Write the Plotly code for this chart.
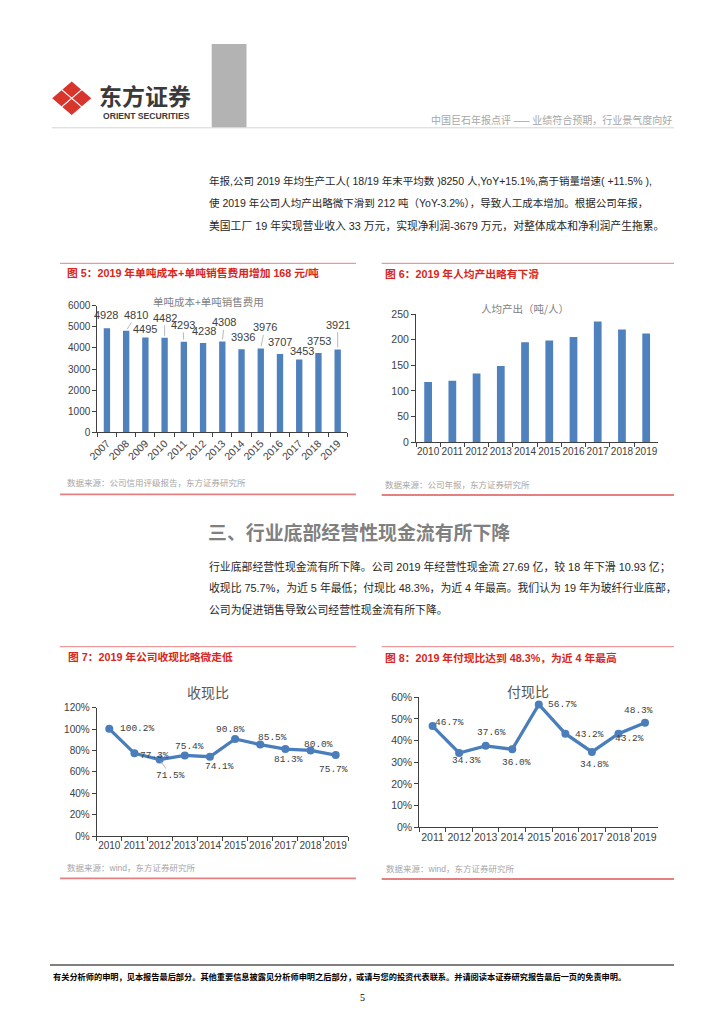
import plotly.graph_objects as go

# The page body has an 8px margin, so the figure is sized/offset to compensate.
OFF = 8
W, H = 724 - OFF, 1024 - OFF


def X(p):
    return (p - OFF) / W


def Y(p):
    return 1 - (p - OFF) / H


# ---------------- data ----------------
cost_years = ["2007", "2008", "2009", "2010", "2011", "2012", "2013",
              "2014", "2015", "2016", "2017", "2018", "2019"]
cost_values = [4928, 4810, 4495, 4482, 4293, 4238, 4308, 3936, 3976, 3707, 3453, 3753, 3921]

output_years = ["2010", "2011", "2012", "2013", "2014", "2015", "2016", "2017", "2018", "2019"]
output_values = [117.5, 120, 134, 148.5, 195, 198.5, 205, 235.5, 220, 212]

recv_years = ["2010", "2011", "2012", "2013", "2014", "2015", "2016", "2017", "2018", "2019"]
recv_values = [100.2, 77.3, 71.5, 75.4, 74.1, 90.8, 85.5, 81.3, 80.0, 75.7]

pay_years = ["2011", "2012", "2013", "2014", "2015", "2016", "2017", "2018", "2019"]
pay_values = [46.7, 34.3, 37.6, 36.0, 56.7, 43.2, 34.8, 43.2, 48.3]

# label offsets (style): (dx, dy screen px, leader line)
cost_lbl = [(-1, -13, 0), (10, -16, 1), (0, -8, 0), (0, -20, 1), (-1, -17, 1), (1, -12, 0),
            (2, -19, 1), (1, -12, 0), (4, -21, 1), (0, -12, 0), (3, -8, 0), (1, -12, 0), (0, -25, 1)]
recv_lbl = [(28, 0, 0), (20, 2, 0), (11, 16, 1), (5, -9, 0), (10, 10, 0), (-5, -9, 0),
            (12, -7, 0), (3, 10, 0), (8, -6, 0), (-2, 14, 0)]
pay_lbl = [(17, -4, 0), (7, 8, 0), (6, -13, 0), (4, 13, 0), (24, 0, 0), (24, 1, 0),
           (3, 13, 0), (11, 5, 0), (-7, -12, 0)]

FONT = "Liberation Sans, Noto Sans CJK SC, sans-serif"
CJK = "Noto Sans CJK SC, Liberation Sans, sans-serif"
MONO = "Liberation Mono, DejaVu Sans Mono, monospace"
RED = "#d9261c"
LINE_RED = "#e58080"
BLUE = "#4f81bd"
LBLUE = "#4a7ebb"
AX = "#404040"
TXT = "#404040"

fig = go.Figure()

fig.add_trace(go.Bar(x=cost_years, y=cost_values, xaxis="x", yaxis="y",
                     marker=dict(color=BLUE, line=dict(width=0)), width=0.33))
fig.add_trace(go.Bar(x=output_years, y=output_values, xaxis="x2", yaxis="y2",
                     marker=dict(color=BLUE, line=dict(width=0)), width=0.32))
fig.add_trace(go.Scatter(x=recv_years, y=recv_values, xaxis="x3", yaxis="y3",
                         mode="lines+markers", line=dict(color=LBLUE, width=3.3),
                         marker=dict(size=8, color=LBLUE)))
fig.add_trace(go.Scatter(x=pay_years, y=pay_values, xaxis="x4", yaxis="y4",
                         mode="lines+markers", line=dict(color=LBLUE, width=3.3),
                         marker=dict(size=8, color=LBLUE)))


def xax(d, n, size=10, angle=0):
    return dict(domain=d, type="category", range=[-0.5, n - 0.5], showline=True, linecolor=AX,
                linewidth=1, ticks="outside", tickson="boundaries", ticklen=4, tickcolor=AX,
                tickfont=dict(family=FONT, size=size, color=TXT), tickangle=angle,
                showgrid=False, zeroline=False, fixedrange=True, automargin=False)


def yax(d, rng, dt, suffix="", size=10):
    return dict(domain=d, range=rng, dtick=dt, showline=True, linecolor=AX, linewidth=1,
                ticks="outside", ticklen=4, tickcolor=AX, ticksuffix=suffix,
                tickfont=dict(family=FONT, size=size, color=TXT),
                showgrid=False, zeroline=False, fixedrange=True, automargin=False)


layout = dict(
    template="none",
    width=W, height=H, margin=dict(l=0, r=0, t=0, b=0, pad=0, autoexpand=False),
    paper_bgcolor="white", plot_bgcolor="white", showlegend=False,
    font=dict(family=FONT, color=TXT),
    xaxis=dict(xax([X(97.3), X(347.3)], len(cost_years), 10.5, -45), anchor="y"),
    yaxis=dict(yax([Y(432.3), Y(305.7)], [0, 6000], 1000), anchor="x"),
    xaxis2=dict(xax([X(416), X(658.3)], len(output_years), 10), anchor="y2"),
    yaxis2=dict(yax([Y(442.3), Y(314)], [0, 250], 50, size=10.5), anchor="x2"),
    xaxis3=dict(xax([X(96.7), X(348.3)], len(recv_years), 10), anchor="y3"),
    yaxis3=dict(yax([Y(836), Y(707.7)], [0, 120], 20, "%"), anchor="x3"),
    xaxis4=dict(xax([X(419.3), X(658.3)], len(pay_years), 10.5), anchor="y4"),
    yaxis4=dict(yax([Y(827.3), Y(697.3)], [0, 60], 10, "%", 10.5), anchor="x4"),
)
fig.update_layout(**layout)

ann = []
shapes = []


def text(x, y, s, size, color=TXT, family=CJK, xa="left", bold=False):
    ann.append(dict(x=X(x), y=Y(y), xref="paper", yref="paper", text=("<b>%s</b>" % s) if bold else s,
                    showarrow=False, xanchor=xa, yanchor="middle",
                    font=dict(family=family, size=size, color=color)))


def hline(x0, x1, y, color, w):
    shapes.append(dict(type="line", xref="paper", yref="paper", x0=X(x0), x1=X(x1),
                       y0=Y(y), y1=Y(y), line=dict(color=color, width=w)))


# ---------------- header ----------------
shapes.append(dict(type="rect", xref="paper", yref="paper", x0=X(211.7), x1=X(246.5),
                   y0=Y(127.5), y1=Y(44), fillcolor="#b3b3b3", line=dict(width=0)))
hline(51.7, 674, 127.8, "#d4d4d4", 1)
for (cx, cy) in [(61.5, 98.3), (71.7, 89.6), (81.9, 98.3), (71.7, 107)]:
    a, b = 8.2, 7.0
    path = "M %f %f L %f %f L %f %f L %f %f Z" % (X(cx - a), Y(cy), X(cx), Y(cy - b),
                                                  X(cx + a), Y(cy), X(cx), Y(cy + b))
    shapes.append(dict(type="path", xref="paper", yref="paper", path=path,
                       fillcolor="#d8352c", line=dict(color="#d8352c", width=1.5)))
text(97, 95, "东方证券", 23, "#3a3a3a", bold=True)
text(101, 116, "ORIENT SECURITIES", 8.6, "#3a3a3a", family=FONT, bold=True)
text(674, 119.5, "中国巨石年报点评 —— 业绩符合预期，行业景气度向好", 10, "#a6a6a6", xa="right")

# ---------------- body paragraph 1 ----------------
p1 = ["年报,公司 2019 年均生产工人( 18/19 年末平均数 )8250 人,YoY+15.1%,高于销量增速( +11.5% ),",
      "使 2019 年公司人均产出略微下滑到 212 吨（YoY-3.2%），导致人工成本增加。根据公司年报，",
      "美国工厂 19 年实现营业收入 33 万元，实现净利润-3679 万元，对整体成本和净利润产生拖累。"]
p1_size = [10.5, 10.5, 10.8]
for i, s in enumerate(p1):
    text(207, 181 + 22 * i, s, p1_size[i], "#262626", family=FONT)

# ---------------- figure blocks ----------------
for (x0, x1, yt, yb) in [(60, 356, 263.3, 494.3), (381.7, 674, 263.3, 495),
                         (60, 356, 646.7, 878.3), (381.7, 674, 646.7, 879)]:
    hline(x0, x1, yt, LINE_RED, 1)
    hline(x0, x1, yb, LINE_RED, 1.8)

text(65, 273.3, "图 5：2019 年单吨成本+单吨销售费用增加 168 元/吨", 10.75, RED, family=FONT, bold=True)
text(383.3, 274, "图 6：2019 年人均产出略有下滑", 10.75, RED, family=FONT, bold=True)
text(66, 657.3, "图 7：2019 年公司收现比略微走低", 10.75, RED, family=FONT, bold=True)
text(383.3, 658.3, "图 8：2019 年付现比达到 48.3%，为近 4 年最高", 10.75, RED, family=FONT, bold=True)

text(208, 302, "单吨成本+单吨销售费用", 10.5, "#7f7f7f", xa="center")
text(525, 308.3, "人均产出（吨/人）", 10.5, "#7f7f7f", xa="center")
text(208.3, 691.7, "收现比", 14, "#595959", xa="center")
text(528.3, 690.7, "付现比", 14, "#595959", xa="center")

text(65, 482.7, "数据来源：公司信用评级报告，东方证券研究所", 8.5, "#a6a6a6", family=FONT)
text(383.3, 485, "数据来源：公司年报，东方证券研究所", 8.5, "#a6a6a6", family=FONT)
text(65, 868.3, "数据来源：wind，东方证券研究所", 8.5, "#a6a6a6", family=FONT)
text(384, 869, "数据来源：wind，东方证券研究所", 8.5, "#a6a6a6", family=FONT)

# ---------------- section 3 ----------------
text(206, 531, "三、行业底部经营性现金流有所下降", 18.9, "#808080", bold=True)
p2 = ["行业底部经营性现金流有所下降。公司 2019 年经营性现金流 27.69 亿，较 18 年下滑 10.93 亿；",
      "收现比 75.7%，为近 5 年最低；付现比 48.3%，为近 4 年最高。我们认为 19 年为玻纤行业底部，",
      "公司为促进销售导致公司经营性现金流有所下降。"]
for i, s in enumerate(p2):
    text(207, 566 + 21.7 * i, s, 10.85, "#262626", family=FONT)

# ---------------- footer ----------------
hline(50, 674, 965, "#000000", 1)
text(51, 976, "有关分析师的申明，见本报告最后部分。其他重要信息披露见分析师申明之后部分，或请与您的投资代表联系。并请阅读本证券研究报告最后一页的免责申明。",
     8.2, "#000000", bold=True)
text(362, 997, "5", 10, "#000000", family="Liberation Serif, serif", xa="center")


# ---------------- data labels ----------------
def labels(ys, offs, xr, yr, fmt, fam, size):
    for i, (yv, (dx, dy, lead)) in enumerate(zip(ys, offs)):
        a = dict(x=i, y=yv, xref=xr, yref=yr, text=fmt(yv),
                 font=dict(family=fam, size=size, color=TXT))
        if lead:
            a.update(showarrow=True, ax=dx, ay=dy, arrowhead=0, arrowwidth=0.8,
                     arrowcolor="#a6a6a6", standoff=2)
        else:
            a.update(showarrow=False, xshift=dx, yshift=-dy)
        ann.append(a)


labels(cost_values, cost_lbl, "x", "y", lambda v: "%d" % v, FONT, 11)
labels(recv_values, recv_lbl, "x3", "y3", lambda v: "%.1f%%" % v, MONO, 9.5)
labels(pay_values, pay_lbl, "x4", "y4", lambda v: "%.1f%%" % v, MONO, 9.5)

fig.update_layout(annotations=ann, shapes=shapes)
fig.write_html("out.html")
